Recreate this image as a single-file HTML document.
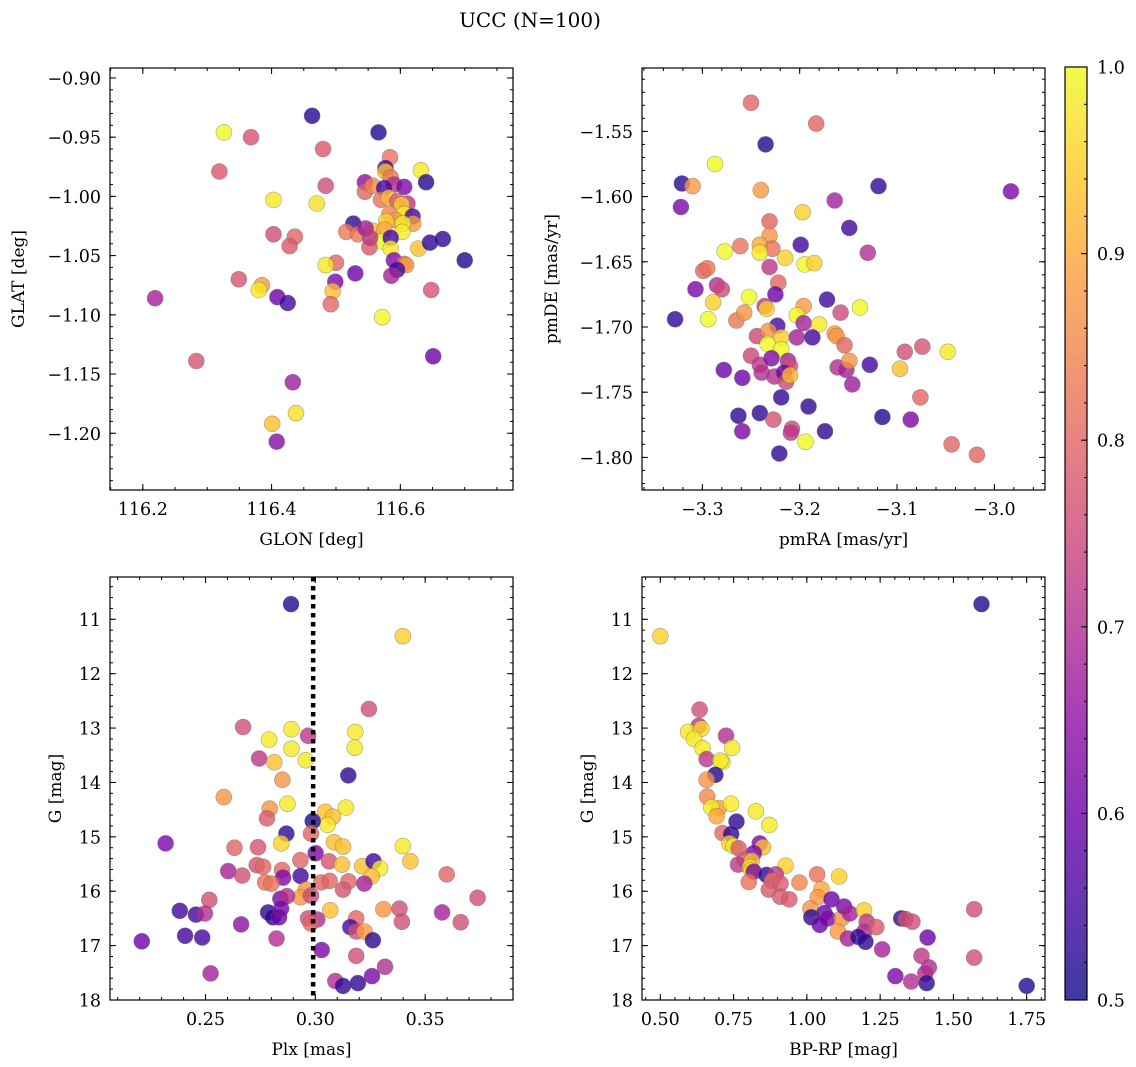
<!DOCTYPE html>
<html><head><meta charset="utf-8"><title>UCC (N=100)</title>
<style>
html,body{margin:0;padding:0;background:#fff;}
svg{display:block;font-family:"DejaVu Serif","Liberation Serif",serif;}
</style></head>
<body>
<svg id="fig" width="1136" height="1067" viewBox="0 0 1136 1067" xmlns="http://www.w3.org/2000/svg">
<defs>
<linearGradient id="plasma" x1="0" y1="1" x2="0" y2="0">
<stop offset="0" stop-color="#0d0887"/><stop offset="0.1" stop-color="#41049d"/><stop offset="0.2" stop-color="#6a00a8"/><stop offset="0.3" stop-color="#8f0da4"/><stop offset="0.4" stop-color="#b12a90"/><stop offset="0.5" stop-color="#cc4778"/><stop offset="0.6" stop-color="#e16462"/><stop offset="0.7" stop-color="#f2844b"/><stop offset="0.8" stop-color="#fca636"/><stop offset="0.9" stop-color="#fcce25"/><stop offset="1" stop-color="#f0f921"/>
</linearGradient>
</defs>
<text x="530" y="27" font-size="20" text-anchor="middle">UCC (N=100)</text>
</svg>
<script>
// ---- Panel 1: GLON / GLAT ----
const p1Glon=[116.463,116.326,116.368,116.566,116.480,116.319,116.584,116.632,116.640,116.484,116.403,116.470,116.545,116.545,116.557,116.577,116.577,116.585,116.590,116.606,116.575,116.570,116.582,116.595,116.611,116.602,116.583,116.606,116.619,116.620,116.593,116.578,116.604,116.603,116.527,116.516,116.534,116.557,116.546,116.575,116.571,116.585,116.585,116.552,116.553,116.628,116.646,116.666,116.700,116.403,116.436,116.428,116.500,116.484,116.590,116.606,116.609,116.595,116.586,116.530,116.499,116.495,116.492,116.349,116.385,116.380,116.409,116.425,116.219,116.648,116.572,116.651,116.283,116.433,116.438,116.401,116.408];
const p1Glat=[-0.932,-0.946,-0.950,-0.946,-0.960,-0.979,-0.967,-0.978,-0.988,-0.991,-1.003,-1.006,-0.988,-0.996,-0.991,-0.976,-0.979,-0.984,-0.990,-0.992,-0.993,-1.003,-1.001,-1.004,-1.006,-1.007,-1.015,-1.015,-1.017,-1.023,-1.020,-1.021,-1.023,-1.030,-1.023,-1.030,-1.032,-1.029,-1.027,-1.028,-1.038,-1.035,-1.044,-1.043,-1.035,-1.044,-1.039,-1.036,-1.054,-1.032,-1.034,-1.042,-1.056,-1.058,-1.054,-1.057,-1.058,-1.062,-1.067,-1.065,-1.072,-1.080,-1.091,-1.070,-1.075,-1.079,-1.085,-1.090,-1.086,-1.079,-1.102,-1.135,-1.139,-1.157,-1.183,-1.192,-1.207];
const p1Prob=[.52,1,.77,.52,.78,.78,.82,.98,.52,.76,.98,.97,.65,.8,.85,.55,.93,.83,.7,.62,.55,.82,.93,.78,.72,.95,.85,.98,.55,.88,.88,.95,.98,.98,.53,.83,.83,.93,.67,.9,1,.55,.98,.78,.72,.93,.53,.53,.52,.76,.8,.78,.8,.98,.63,.83,.88,.55,.68,.6,.62,.93,.8,.77,.88,.98,.6,.55,.68,.77,1,.6,.77,.67,.97,.93,.64];
const p1XTicks=[116.2,116.4,116.6];
const p1XLabels=["116.2","116.4","116.6"];
const p1YTicks=[-0.90,-0.95,-1.00,-1.05,-1.10,-1.15,-1.20];
const p1YLabels=["\u22120.90","\u22120.95","\u22121.00","\u22121.05","\u22121.10","\u22121.15","\u22121.20"];

// ---- Panel 2: pmRA / pmDE ----
const p2Pmra=[-3.250,-3.183,-3.235,-3.287,-3.321,-3.310,-3.322,-3.240,-3.119,-2.983,-3.164,-3.197,-3.149,-3.231,-3.231,-3.261,-3.241,-3.228,-3.199,-3.277,-3.241,-3.215,-3.195,-3.185,-3.130,-3.299,-3.295,-3.231,-3.222,-3.307,-3.285,-3.280,-3.289,-3.252,-3.225,-3.172,-3.328,-3.294,-3.265,-3.257,-3.236,-3.234,-3.196,-3.203,-3.158,-3.138,-3.223,-3.196,-3.180,-3.244,-3.232,-3.219,-3.233,-3.219,-3.203,-3.187,-3.164,-3.162,-3.154,-3.250,-3.241,-3.239,-3.229,-3.226,-3.212,-3.210,-3.216,-3.214,-3.210,-3.278,-3.259,-3.161,-3.152,-3.149,-3.146,-3.128,-3.097,-3.092,-3.074,-3.048,-3.076,-3.219,-3.191,-3.263,-3.241,-3.227,-3.115,-3.086,-3.259,-3.208,-3.209,-3.174,-3.194,-3.044,-3.018,-3.221];
const p2Pmde=[-1.528,-1.544,-1.560,-1.575,-1.590,-1.592,-1.608,-1.595,-1.592,-1.596,-1.603,-1.612,-1.624,-1.619,-1.630,-1.638,-1.637,-1.640,-1.637,-1.642,-1.643,-1.647,-1.652,-1.651,-1.643,-1.657,-1.655,-1.654,-1.666,-1.671,-1.668,-1.671,-1.681,-1.677,-1.675,-1.679,-1.694,-1.694,-1.695,-1.689,-1.684,-1.686,-1.684,-1.691,-1.689,-1.685,-1.699,-1.697,-1.698,-1.707,-1.703,-1.708,-1.713,-1.717,-1.708,-1.708,-1.705,-1.707,-1.714,-1.722,-1.729,-1.735,-1.724,-1.738,-1.726,-1.730,-1.735,-1.742,-1.737,-1.733,-1.739,-1.731,-1.733,-1.726,-1.744,-1.729,-1.732,-1.719,-1.715,-1.719,-1.754,-1.754,-1.761,-1.768,-1.766,-1.771,-1.769,-1.771,-1.780,-1.778,-1.781,-1.780,-1.788,-1.790,-1.798,-1.797];
const p2Prob=[.8,.8,.52,1,.53,.88,.62,.88,.53,.62,.68,.95,.55,.8,.87,.82,.9,.82,.55,1,.98,.95,1,.95,.7,.8,.82,.72,.8,.62,.7,.75,.95,1,.6,.55,.53,1,.83,.87,.72,.95,.88,1,.75,1,.55,.68,.98,.75,.87,.95,1,1,.68,.55,.87,.88,.8,.75,.72,.7,.63,.7,.68,.76,.6,.75,.92,.6,.6,.7,.68,.87,.67,.55,.93,.76,.77,.98,.8,.53,.53,.53,.53,.77,.52,.62,.62,.75,.72,.53,1,.8,.8,.53];
const p2XTicks=[-3.3,-3.2,-3.1,-3.0];
const p2XLabels=["\u22123.3","\u22123.2","\u22123.1","\u22123.0"];
const p2YTicks=[-1.55,-1.60,-1.65,-1.70,-1.75,-1.80];
const p2YLabels=["\u22121.55","\u22121.60","\u22121.65","\u22121.70","\u22121.75","\u22121.80"];

// ---- Panel 3: Plx / G ----
const p3Plx=[.2889,.3398,.3244,.2671,.2891,.2967,.2789,.3182,.3179,.2891,.2744,.2813,.2956,.3150,.2850,.2583,.2792,.2873,.3139,.2780,.3045,.3080,.3056,.2988,.2868,.2980,.2318,.2845,.3085,.3126,.3398,.2632,.2739,.3001,.2932,.3062,.3121,.3213,.3265,.3295,.3433,.3256,.2733,.2762,.2603,.2667,.2848,.2853,.2933,.2771,.2800,.3026,.3065,.3151,.3223,.3126,.3598,.2957,.2933,.2980,.2841,.2871,.2517,.2383,.2456,.2497,.2785,.2807,.2835,.2844,.3068,.3310,.3383,.3577,.3739,.3662,.3394,.3186,.2967,.3009,.2979,.2662,.3159,.3186,.3224,.3262,.2210,.2407,.2485,.2823,.3029,.3186,.3317,.2523,.3091,.3126,.3194,.3258];
const p3G=[10.72,11.31,12.65,12.98,13.02,13.14,13.21,13.07,13.36,13.38,13.56,13.63,13.59,13.87,13.95,14.27,14.48,14.39,14.46,14.66,14.54,14.63,14.78,14.71,14.94,14.94,15.12,15.12,15.10,15.18,15.17,15.20,15.19,15.30,15.43,15.45,15.51,15.54,15.45,15.58,15.45,15.73,15.52,15.55,15.63,15.71,15.61,15.75,15.72,15.84,15.86,15.84,15.81,15.82,15.86,15.97,15.69,15.97,16.11,16.08,16.14,16.09,16.16,16.36,16.43,16.41,16.39,16.48,16.48,16.32,16.35,16.33,16.32,16.39,16.12,16.57,16.56,16.50,16.50,16.52,16.59,16.61,16.66,16.74,16.74,16.90,16.92,16.82,16.85,16.87,17.08,17.19,17.39,17.51,17.65,17.74,17.69,17.56];
const p3Prob=[.52,.95,.76,.76,.98,.72,.98,.98,.98,.98,.72,.93,.98,.53,.87,.87,.87,.98,.98,.78,.93,.93,.98,.52,.53,.8,.62,.95,.93,.93,.98,.8,.77,.62,.8,.77,.93,.93,.55,.98,.93,.93,.77,.8,.68,.76,.8,.63,.55,.82,.82,.8,.8,.8,.68,.77,.8,.88,.88,.75,.62,.7,.76,.55,.55,.7,.53,.53,.6,.62,.93,.87,.76,.68,.76,.76,.76,.8,.76,.7,.8,.65,.55,.76,.88,.53,.6,.55,.55,.7,.62,.76,.7,.68,.7,.53,.53,.62];
const p3RefPlx=[0.299];
const p3XTicks=[0.25,0.30,0.35];
const p3XLabels=["0.25","0.30","0.35"];
const magTicks=[11,12,13,14,15,16,17,18];
const magLabels=["11","12","13","14","15","16","17","18"];

// ---- Panel 4: BP-RP / G ----
const p4Bprp=[.500,1.596,.634,.631,.595,.640,.615,.724,.644,.745,.658,.712,.705,.688,.658,.660,.700,.674,.741,.692,.760,.826,.872,.712,.742,.735,.750,.767,.839,.850,.819,.787,.765,.812,.806,.810,.927,.819,.802,.862,.894,.881,.910,.870,.909,.940,.975,1.035,1.110,1.050,1.037,1.084,1.012,1.015,1.060,1.072,1.044,1.119,1.127,1.147,1.195,1.204,1.196,1.237,1.106,1.140,1.175,1.200,1.257,1.322,1.337,1.360,1.412,1.391,1.416,1.404,1.302,1.356,1.409,1.750,1.571,1.571];
const p4G=[11.31,10.72,12.66,12.96,13.07,13.01,13.20,13.14,13.37,13.36,13.57,13.62,13.60,13.86,13.95,14.26,14.47,14.46,14.39,14.62,14.72,14.53,14.78,14.93,14.95,15.12,15.17,15.21,15.12,15.19,15.30,15.42,15.51,15.44,15.56,15.61,15.53,15.64,15.83,15.70,15.69,15.81,15.86,15.97,16.10,16.15,15.84,15.69,15.73,15.96,16.11,16.15,16.32,16.48,16.40,16.50,16.62,16.50,16.28,16.41,16.35,16.56,16.74,16.66,16.74,16.87,16.84,16.93,17.07,16.50,16.51,16.56,16.85,17.19,17.40,17.51,17.56,17.66,17.69,17.74,16.33,17.22];
const p4Prob=[.95,.52,.76,.72,.98,.96,.98,.7,.98,.98,.72,.98,.98,.52,.87,.85,.88,.98,.98,.9,.53,.98,.98,.8,.53,.95,.98,.78,.62,.93,.62,.78,.72,.93,.98,.95,.95,.62,.82,.53,.72,.82,.78,.78,.78,.78,.85,.82,.95,.9,.88,.6,.87,.53,.6,.63,.6,.87,.62,.68,.95,.72,.7,.78,.88,.68,.53,.53,.68,.53,.76,.76,.6,.72,.7,.7,.62,.7,.53,.52,.76,.76];
const p4XTicks=[0.50,0.75,1.00,1.25,1.50,1.75];
const p4XLabels=["0.50","0.75","1.00","1.25","1.50","1.75"];

// ---- Colorbar ----
const cbTicks=[0.5,0.6,0.7,0.8,0.9,1.0];
const cbLabels=["0.5","0.6","0.7","0.8","0.9","1.0"];

const NS="http://www.w3.org/2000/svg";
const svg=document.getElementById('fig');
const FS=17.5;
const plasmaStops=[[0,'#0d0887'],[0.1,'#41049d'],[0.2,'#6a00a8'],[0.3,'#8f0da4'],[0.4,'#b12a90'],[0.5,'#cc4778'],[0.6,'#e16462'],[0.7,'#f2844b'],[0.8,'#fca636'],[0.9,'#fcce25'],[1,'#f0f921']];
function hex(c){return [parseInt(c.slice(1,3),16),parseInt(c.slice(3,5),16),parseInt(c.slice(5,7),16)];}
function plasma(t){
  t=Math.max(0,Math.min(1,t));
  for(let i=1;i<plasmaStops.length;i++){
    if(t<=plasmaStops[i][0]){
      const a=plasmaStops[i-1],b=plasmaStops[i];const f=(t-a[0])/(b[0]-a[0]);
      const A=hex(a[1]),B=hex(b[1]);
      return 'rgb('+A.map((v,k)=>Math.round(v+(B[k]-v)*f)).join(',')+')';
    }
  }
  return plasmaStops[plasmaStops.length-1][1];
}
function mk(tag,attrs,parent){const e=document.createElementNS(NS,tag);for(const k in attrs)e.setAttribute(k,attrs[k]);(parent||svg).appendChild(e);return e;}

function panel(cfg){
  const g=mk('g',{});
  
  
  const L=cfg.box[0],T=cfg.box[1],R=cfg.box[2],B=cfg.box[3];
  const sx=v=>L+(v-cfg.xr[0])/(cfg.xr[1]-cfg.xr[0])*(R-L);
  const sy=v=>T+(v-cfg.yr[0])/(cfg.yr[1]-cfg.yr[0])*(B-T);
  const pg=mk('g',{},g);
  
  
  const n=Math.min(cfg.xs.length,cfg.ys.length,cfg.ps.length);
  for(let i=0;i<n;i++){
    const c=mk('circle',{cx:sx(cfg.xs[i]).toFixed(1),cy:sy(cfg.ys[i]).toFixed(1),r:8,fill:plasma((cfg.ps[i]-0.5)/0.5),'fill-opacity':0.8,stroke:'#666','stroke-opacity':0.55,'stroke-width':0.6},pg);
    
    
  }
  if(cfg.vline){
    cfg.vline.forEach(v=>{
      const ln=mk('line',{x1:sx(v),x2:sx(v),y1:T,y2:B,stroke:'#000','stroke-width':4.5,'stroke-dasharray':'4.5 4.5'},g);
      
      
    });
  }
  const fr=mk('rect',{x:L,y:T,width:R-L,height:B-T,fill:'none',stroke:'#000','stroke-width':1.2},g);
  
  
  const tk=mk('g',{stroke:'#000','stroke-width':1},g);
  const eps=1e-9;
  for(let v=Math.ceil(cfg.xr[0]/cfg.xminor-eps)*cfg.xminor; v<=cfg.xr[1]+eps; v+=cfg.xminor){
    const x=sx(v);mk('line',{x1:x,x2:x,y1:B,y2:B-3},tk);mk('line',{x1:x,x2:x,y1:T,y2:T+3},tk);
  }
  const ylo=Math.min(cfg.yr[0],cfg.yr[1]),yhi=Math.max(cfg.yr[0],cfg.yr[1]);
  for(let v=Math.ceil(ylo/cfg.yminor-eps)*cfg.yminor; v<=yhi+eps; v+=cfg.yminor){
    const y=sy(v);mk('line',{x1:L,x2:L+3,y1:y,y2:y},tk);mk('line',{x1:R,x2:R-3,y1:y,y2:y},tk);
  }
  cfg.xticks.forEach((v,i)=>{
    const x=sx(v);mk('line',{x1:x,x2:x,y1:B,y2:B-6},tk);mk('line',{x1:x,x2:x,y1:T,y2:T+6},tk);
    const t=mk('text',{x:x,y:B+25,'font-size':FS,'text-anchor':'middle'},g);t.textContent=cfg.xlabels[i];
    
    
  });
  cfg.yticks.forEach((v,i)=>{
    const y=sy(v);mk('line',{x1:L,x2:L+6,y1:y,y2:y},tk);mk('line',{x1:R,x2:R-6,y1:y,y2:y},tk);
    const t=mk('text',{x:L-9,y:y+6.5,'font-size':FS,'text-anchor':'end'},g);t.textContent=cfg.ylabels[i];
    
    
  });
  const xt=mk('text',{x:(L+R)/2,y:B+55,'font-size':17,'text-anchor':'middle'},g);xt.textContent=cfg.xtitle;
  
  
  const yt=mk('text',{x:0,y:0,'font-size':17,'text-anchor':'middle',transform:'translate('+cfg.ytx+','+((T+B)/2)+') rotate(-90)'},g);yt.textContent=cfg.ytitle;
  
  
}

panel({name:'glon-glat-panel',box:[110,68,513,490],xr:[116.149,116.775],yr:[-0.8916,-1.2479],xs:p1Glon,ys:p1Glat,ps:p1Prob,xticks:p1XTicks,xlabels:p1XLabels,yticks:p1YTicks,ylabels:p1YLabels,xminor:0.05,yminor:0.01,xtitle:'GLON [deg]',ytitle:'GLAT [deg]',ytx:24});
panel({name:'pm-panel',box:[642,68,1045,490],xr:[-3.362,-2.948],yr:[-1.5014,-1.825],xs:p2Pmra,ys:p2Pmde,ps:p2Prob,xticks:p2XTicks,xlabels:p2XLabels,yticks:p2YTicks,ylabels:p2YLabels,xminor:0.02,yminor:0.01,xtitle:'pmRA [mas/yr]',ytitle:'pmDE [mas/yr]',ytx:557});
panel({name:'plx-g-panel',box:[110,577,513,1000],xr:[0.2065,0.390],yr:[10.222,18],xs:p3Plx,ys:p3G,ps:p3Prob,vline:p3RefPlx,xticks:p3XTicks,xlabels:p3XLabels,yticks:magTicks,ylabels:magLabels,xminor:0.01,yminor:0.2,xtitle:'Plx [mas]',ytitle:'G [mag]',ytx:61});
panel({name:'cmd-panel',box:[642,577,1045,1000],xr:[0.4375,1.8125],yr:[10.222,18],xs:p4Bprp,ys:p4G,ps:p4Prob,xticks:p4XTicks,xlabels:p4XLabels,yticks:magTicks,ylabels:magLabels,xminor:0.05,yminor:0.2,xtitle:'BP-RP [mag]',ytitle:'G [mag]',ytx:593});

(function(){
  const L=1065,R=1087,T=67,B=1000;
  const g=mk('g',{});
  
  
  mk('rect',{x:L,y:T,width:R-L,height:B-T,fill:'url(#plasma)','fill-opacity':0.8},g);
  mk('rect',{x:L,y:T,width:R-L,height:B-T,fill:'none',stroke:'#000','stroke-width':1.2},g);
  const sy=v=>B-(v-0.5)/0.5*(B-T);
  for(let v=0.5;v<=1.0001;v+=0.02){const y=sy(v);mk('line',{x1:R,x2:R-3,y1:y,y2:y,stroke:'#000'},g);}
  cbTicks.forEach((v,i)=>{
    const y=sy(v);mk('line',{x1:R,x2:R-6,y1:y,y2:y,stroke:'#000'},g);
    const t=mk('text',{x:R+10,y:y+6.5,'font-size':FS},g);t.textContent=cbLabels[i];
    
    
  });
})();
</script>
</body></html>
